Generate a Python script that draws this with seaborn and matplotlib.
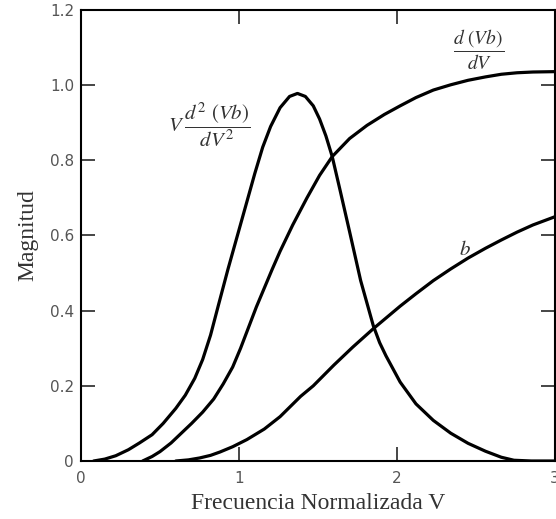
import numpy as np
import pandas as pd
import matplotlib
matplotlib.use("Agg")
import matplotlib.pyplot as plt
import seaborn as sns

# Normalized frequency V and the three guided-mode quantities
v_d2 = [0.08, 0.15, 0.22, 0.30, 0.37, 0.45, 0.52, 0.60, 0.66, 0.72, 0.77, 0.82,
        0.87, 0.93, 0.99, 1.05, 1.10, 1.15, 1.20, 1.26, 1.32, 1.37, 1.42, 1.47,
        1.51, 1.55, 1.59, 1.64, 1.70, 1.77, 1.81, 1.85, 1.89, 1.93, 2.02, 2.12,
        2.23, 2.34, 2.45, 2.56, 2.66, 2.74, 2.85, 3.00]
y_d2 = [0.0, 0.005, 0.014, 0.03, 0.048, 0.07, 0.10, 0.14, 0.175, 0.22, 0.27, 0.335,
        0.415, 0.51, 0.60, 0.69, 0.765, 0.835, 0.89, 0.94, 0.970, 0.978, 0.970, 0.945,
        0.91, 0.865, 0.81, 0.72, 0.61, 0.48, 0.42, 0.36, 0.315, 0.28, 0.21, 0.152,
        0.108, 0.074, 0.047, 0.026, 0.01, 0.002, 0.0, 0.0]

v_d1 = [0.39, 0.45, 0.50, 0.57, 0.63, 0.70, 0.77, 0.84, 0.90, 0.96, 1.01, 1.06,
        1.11, 1.16, 1.21, 1.26, 1.34, 1.43, 1.51, 1.59, 1.70, 1.81, 1.92, 2.02,
        2.12, 2.23, 2.34, 2.45, 2.56, 2.66, 2.76, 2.86, 3.00]
y_d1 = [0.0, 0.012, 0.025, 0.048, 0.072, 0.10, 0.13, 0.165, 0.205, 0.25, 0.30, 0.355,
        0.41, 0.46, 0.51, 0.558, 0.628, 0.70, 0.76, 0.81, 0.858, 0.893, 0.922, 0.945,
        0.967, 0.987, 1.001, 1.013, 1.022, 1.029, 1.033, 1.035, 1.036]

v_b = [0.60, 0.68, 0.75, 0.82, 0.88, 0.96, 1.05, 1.16, 1.26, 1.39, 1.47, 1.60,
       1.72, 1.85, 2.02, 2.12, 2.23, 2.34, 2.45, 2.56, 2.66, 2.76, 2.86, 3.00]
y_b = [0.0, 0.003, 0.008, 0.015, 0.024, 0.038, 0.057, 0.085, 0.118, 0.172, 0.20, 0.255,
       0.303, 0.352, 0.412, 0.445, 0.48, 0.511, 0.54, 0.566, 0.588, 0.609, 0.628, 0.65]

x_ticks = [0, 1, 2, 3]
x_tick_labels = ["0", "1", "2", "3"]
y_ticks = [0, 0.2, 0.4, 0.6, 0.8, 1.0, 1.2]
y_tick_labels = ["0", "0.2", "0.4", "0.6", "0.8", "1.0", "1.2"]

curves = pd.concat([
    pd.DataFrame({"V": v_d2, "val": y_d2, "curva": "d2"}),
    pd.DataFrame({"V": v_d1, "val": y_d1, "curva": "d1"}),
    pd.DataFrame({"V": v_b, "val": y_b, "curva": "b"}),
], ignore_index=True)

sns.set_style("ticks")
plt.rcParams["mathtext.fontset"] = "stix"
plt.rcParams["font.family"] = ["DejaVu Sans"]

fig = plt.figure(figsize=(5.56, 5.19), dpi=100)
ax = fig.add_axes([81 / 556, 1 - 461 / 519, 474 / 556, 451 / 519])

sns.lineplot(data=curves, x="V", y="val", units="curva", estimator=None,
             color="black", linewidth=2.3, sort=False, ax=ax, legend=False)

ax.set_xlim(0, 3)
ax.set_ylim(0, 1.2)
ax.set_xticks(x_ticks)
ax.set_xticklabels(x_tick_labels)
ax.set_yticks(y_ticks)
ax.set_yticklabels(y_tick_labels)
ax.tick_params(direction="in", length=10, width=1.2, top=True, right=True,
               labelsize=11, labelcolor="#555555")
ax.tick_params(axis="y", pad=5)
ax.tick_params(axis="x", pad=7)
for s in ax.spines.values():
    s.set_linewidth(1.5)
    s.set_color("black")

serif = ["Liberation Serif", "DejaVu Serif"]
ax.set_xlabel("Frecuencia Normalizada V", family=serif, fontsize=17,
              color="#333333", labelpad=5)
ax.set_ylabel("Magnitud", family=serif, fontsize=17, color="#333333", labelpad=8)

ax.text(0.81, 0.895, r"$V\;\dfrac{d^2\ (Vb)}{dV^2}$", fontsize=15,
        ha="center", va="center", color="#333333")
ax.text(2.516, 1.095, r"$\dfrac{d\ (Vb)}{dV}$", fontsize=14,
        ha="center", va="center", color="#333333")
ax.text(2.43, 0.565, r"$b$", fontsize=15, ha="center", va="center",
        color="#333333")

fig.savefig("out.png", dpi=100)
